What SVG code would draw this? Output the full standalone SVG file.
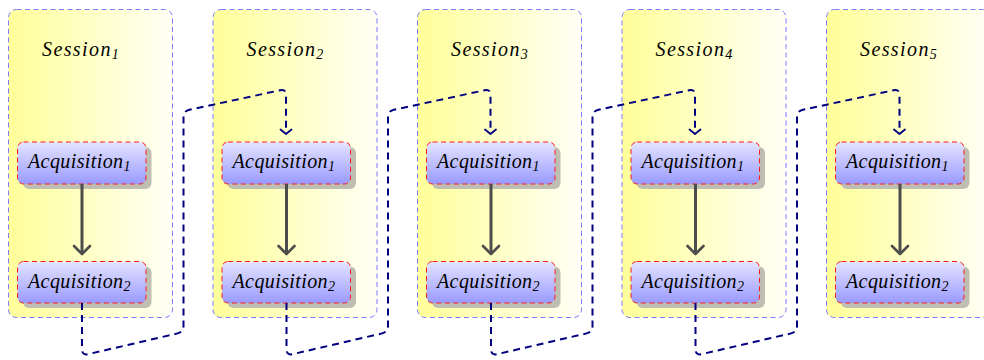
<svg xmlns="http://www.w3.org/2000/svg" width="984" height="360" viewBox="0 0 984 360">
<defs>
<linearGradient id="gSess" x1="0" y1="0" x2="1" y2="0">
<stop offset="0" stop-color="#ffff99"/>
<stop offset="1" stop-color="#fffff6"/>
</linearGradient>
<linearGradient id="gNode" x1="0" y1="0" x2="0" y2="1">
<stop offset="0" stop-color="#e4e4ff"/>
<stop offset="1" stop-color="#9a9aff"/>
</linearGradient>
<marker id="mGray" markerUnits="userSpaceOnUse" markerWidth="20" markerHeight="20" refX="10" refY="10" orient="auto" viewBox="0 0 20 20">
<path d="M2,2 L10,10 L2,18" fill="none" stroke="#4d4d4d" stroke-width="2.6" stroke-linecap="round" stroke-linejoin="round"/>
</marker>
<marker id="mNavy" markerUnits="userSpaceOnUse" markerWidth="20" markerHeight="20" refX="10" refY="10" orient="auto" viewBox="0 0 20 20">
<path d="M5.5,4.5 L10,10 L5.5,15.5" fill="none" stroke="#000080" stroke-width="1.8" stroke-linecap="round" stroke-linejoin="round"/>
</marker>
</defs>
<style>
.sess{fill:url(#gSess);stroke:#7a7aff;stroke-width:1;stroke-dasharray:5 3.5}
.shadow{fill:#bebeb2}
.node{fill:url(#gNode);stroke:#ff1a1a;stroke-width:1;stroke-dasharray:5 3.5}
.lbl{font-family:'Liberation Serif','DejaVu Serif',serif;font-style:italic;font-size:20px;fill:#000}
.sub{font-size:14px;letter-spacing:0}
.flow{fill:none;stroke:#4d4d4d;stroke-width:3}
.link{fill:none;stroke:#000080;stroke-width:2;stroke-dasharray:7 5}
</style>

<g id="session1" transform="translate(0,0)">
<rect class="sess" x="8.5" y="9.5" width="164" height="308" rx="8"/>
<text class="lbl" x="42" y="56" style="letter-spacing:1.4px">Session<tspan class="sub" dy="3">1</tspan></text>
<g id="s1-acq1"><rect class="shadow" x="23" y="147" width="128.5" height="42" rx="6"/><rect class="node" x="17.5" y="142" width="128.5" height="42" rx="6"/><text class="lbl" x="28" y="168" style="letter-spacing:0.4px">Acquisition<tspan class="sub" dy="3">1</tspan></text></g>
<g id="s1-acq2"><rect class="shadow" x="23" y="266.5" width="128.5" height="41.5" rx="6"/><rect class="node" x="17.5" y="261.5" width="128.5" height="41.5" rx="6"/><text class="lbl" x="28" y="288" style="letter-spacing:0.4px">Acquisition<tspan class="sub" dy="3">2</tspan></text></g>
</g>

<g id="session2" transform="translate(204.5,0)">
<rect class="sess" x="8.5" y="9.5" width="164" height="308" rx="8"/>
<text class="lbl" x="42" y="56" style="letter-spacing:1.4px">Session<tspan class="sub" dy="3">2</tspan></text>
<g id="s2-acq1"><rect class="shadow" x="23" y="147" width="128.5" height="42" rx="6"/><rect class="node" x="17.5" y="142" width="128.5" height="42" rx="6"/><text class="lbl" x="28" y="168" style="letter-spacing:0.4px">Acquisition<tspan class="sub" dy="3">1</tspan></text></g>
<g id="s2-acq2"><rect class="shadow" x="23" y="266.5" width="128.5" height="41.5" rx="6"/><rect class="node" x="17.5" y="261.5" width="128.5" height="41.5" rx="6"/><text class="lbl" x="28" y="288" style="letter-spacing:0.4px">Acquisition<tspan class="sub" dy="3">2</tspan></text></g>
</g>

<g id="session3" transform="translate(409,0)">
<rect class="sess" x="8.5" y="9.5" width="164" height="308" rx="8"/>
<text class="lbl" x="42" y="56" style="letter-spacing:1.4px">Session<tspan class="sub" dy="3">3</tspan></text>
<g id="s3-acq1"><rect class="shadow" x="23" y="147" width="128.5" height="42" rx="6"/><rect class="node" x="17.5" y="142" width="128.5" height="42" rx="6"/><text class="lbl" x="28" y="168" style="letter-spacing:0.4px">Acquisition<tspan class="sub" dy="3">1</tspan></text></g>
<g id="s3-acq2"><rect class="shadow" x="23" y="266.5" width="128.5" height="41.5" rx="6"/><rect class="node" x="17.5" y="261.5" width="128.5" height="41.5" rx="6"/><text class="lbl" x="28" y="288" style="letter-spacing:0.4px">Acquisition<tspan class="sub" dy="3">2</tspan></text></g>
</g>

<g id="session4" transform="translate(613.5,0)">
<rect class="sess" x="8.5" y="9.5" width="164" height="308" rx="8"/>
<text class="lbl" x="42" y="56" style="letter-spacing:1.4px">Session<tspan class="sub" dy="3">4</tspan></text>
<g id="s4-acq1"><rect class="shadow" x="23" y="147" width="128.5" height="42" rx="6"/><rect class="node" x="17.5" y="142" width="128.5" height="42" rx="6"/><text class="lbl" x="28" y="168" style="letter-spacing:0.4px">Acquisition<tspan class="sub" dy="3">1</tspan></text></g>
<g id="s4-acq2"><rect class="shadow" x="23" y="266.5" width="128.5" height="41.5" rx="6"/><rect class="node" x="17.5" y="261.5" width="128.5" height="41.5" rx="6"/><text class="lbl" x="28" y="288" style="letter-spacing:0.4px">Acquisition<tspan class="sub" dy="3">2</tspan></text></g>
</g>

<g id="session5" transform="translate(818,0)">
<rect class="sess" x="8.5" y="9.5" width="164" height="308" rx="8"/>
<text class="lbl" x="42" y="56" style="letter-spacing:1.4px">Session<tspan class="sub" dy="3">5</tspan></text>
<g id="s5-acq1"><rect class="shadow" x="23" y="147" width="128.5" height="42" rx="6"/><rect class="node" x="17.5" y="142" width="128.5" height="42" rx="6"/><text class="lbl" x="28" y="168" style="letter-spacing:0.4px">Acquisition<tspan class="sub" dy="3">1</tspan></text></g>
<g id="s5-acq2"><rect class="shadow" x="23" y="266.5" width="128.5" height="41.5" rx="6"/><rect class="node" x="17.5" y="261.5" width="128.5" height="41.5" rx="6"/><text class="lbl" x="28" y="288" style="letter-spacing:0.4px">Acquisition<tspan class="sub" dy="3">2</tspan></text></g>
</g>

<g id="connectors">
<path class="flow" d="M82,184 V254" marker-end="url(#mGray)" transform="translate(0,0)"/>
<path class="flow" d="M82,184 V254" marker-end="url(#mGray)" transform="translate(204.5,0)"/>
<path class="flow" d="M82,184 V254" marker-end="url(#mGray)" transform="translate(409,0)"/>
<path class="flow" d="M82,184 V254" marker-end="url(#mGray)" transform="translate(613.5,0)"/>
<path class="flow" d="M82,184 V254" marker-end="url(#mGray)" transform="translate(818,0)"/>
<path class="link" d="M82,303 V349 Q82,355.5 87.9,354.2 L177.6,333.4 Q183.5,332 183.5,326 V117 Q183.5,111 189.4,109.7 L280.1,90.3 Q286,89 286,95 V134" marker-end="url(#mNavy)" transform="translate(0,0)"/>
<path class="link" d="M82,303 V349 Q82,355.5 87.9,354.2 L177.6,333.4 Q183.5,332 183.5,326 V117 Q183.5,111 189.4,109.7 L280.1,90.3 Q286,89 286,95 V134" marker-end="url(#mNavy)" transform="translate(204.5,0)"/>
<path class="link" d="M82,303 V349 Q82,355.5 87.9,354.2 L177.6,333.4 Q183.5,332 183.5,326 V117 Q183.5,111 189.4,109.7 L280.1,90.3 Q286,89 286,95 V134" marker-end="url(#mNavy)" transform="translate(409,0)"/>
<path class="link" d="M82,303 V349 Q82,355.5 87.9,354.2 L177.6,333.4 Q183.5,332 183.5,326 V117 Q183.5,111 189.4,109.7 L280.1,90.3 Q286,89 286,95 V134" marker-end="url(#mNavy)" transform="translate(613.5,0)"/>
</g>
</svg>
